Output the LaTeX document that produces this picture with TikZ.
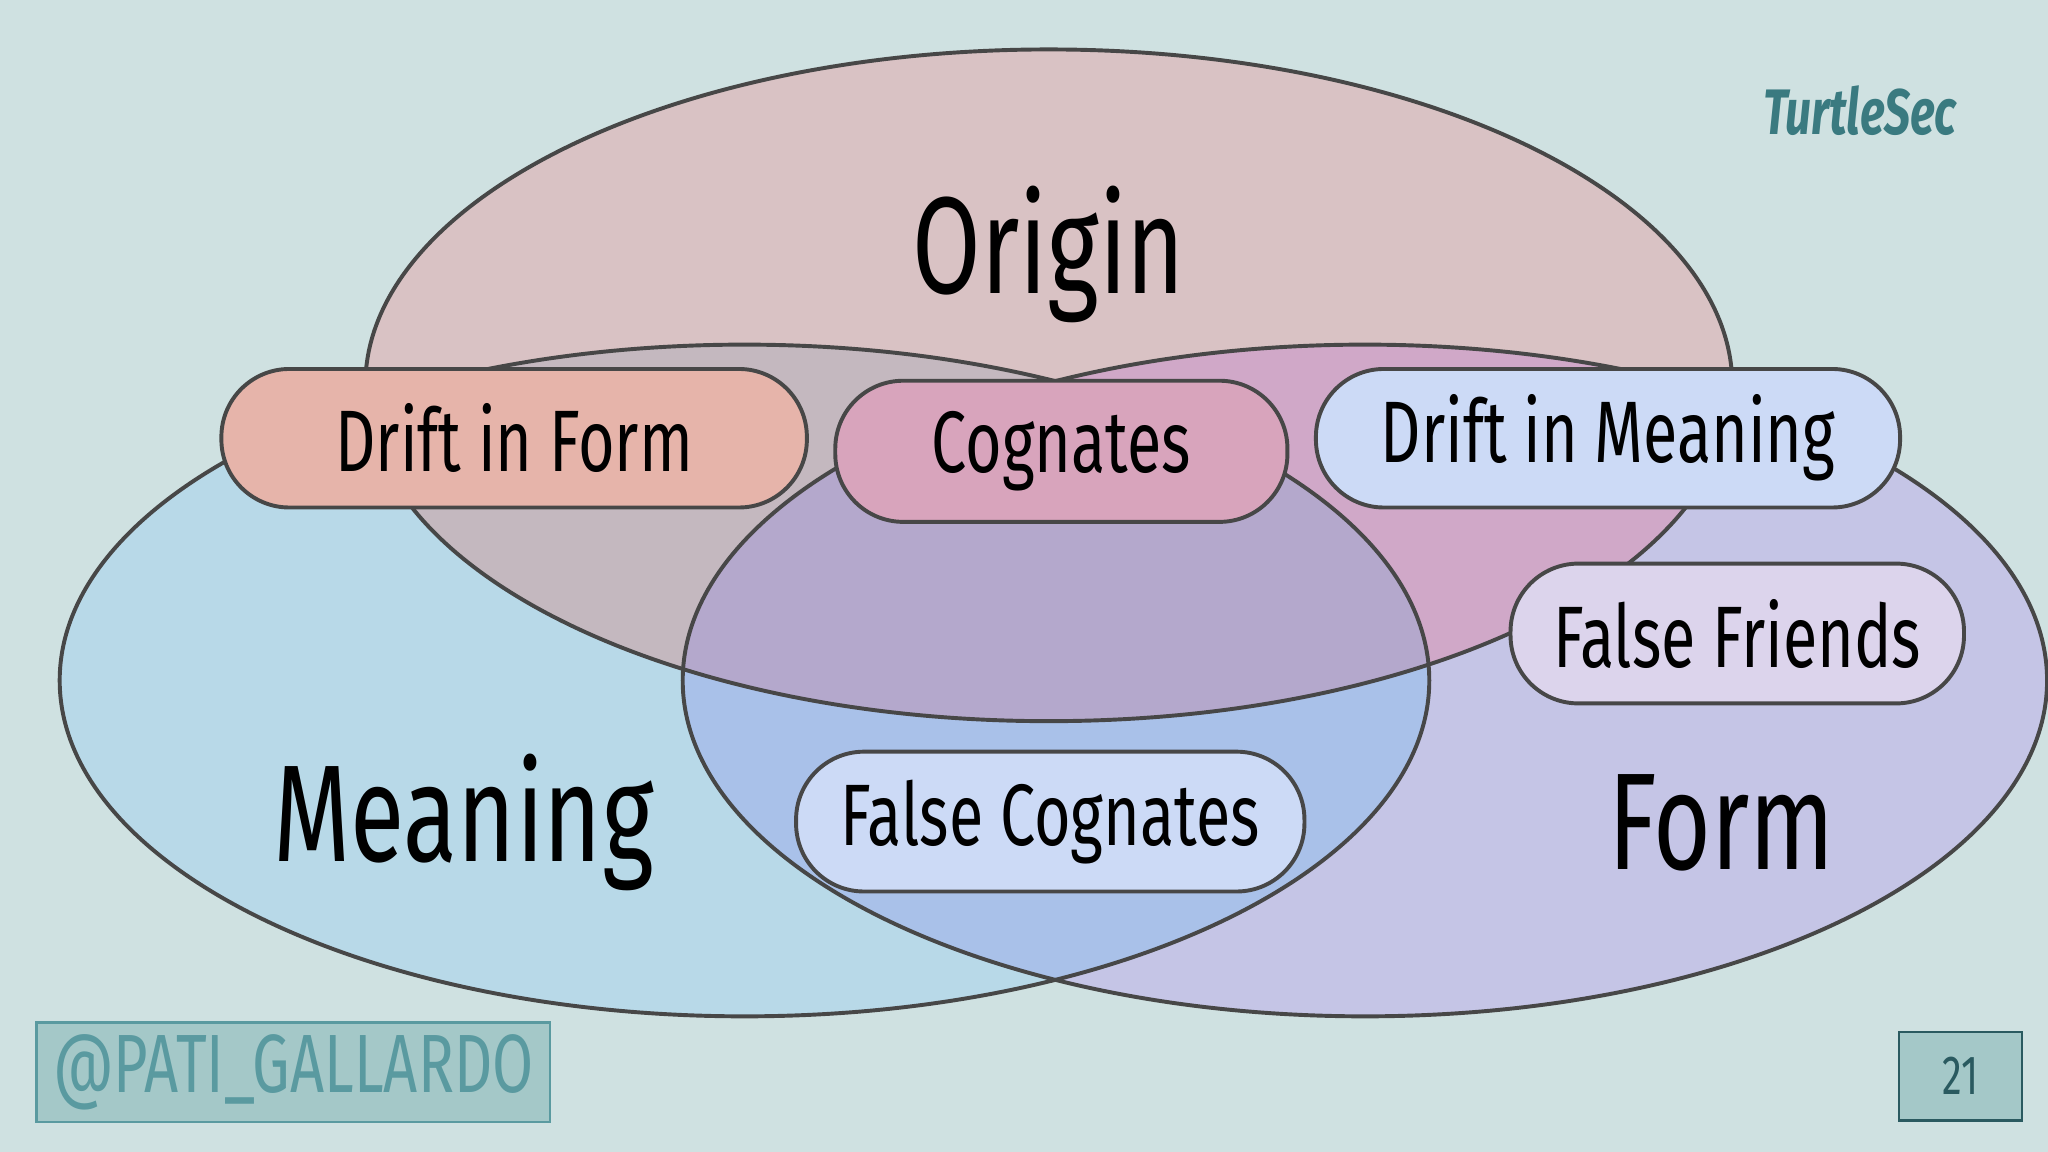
\documentclass[tikz,border=0pt]{standalone}
\usepackage{fontspec}
\setmainfont{Fira Sans}[FakeStretch=0.72]
\begin{document}
\begin{tikzpicture}[x=0.01cm,y=-0.01cm,
  outl/.style={draw=black!72,line width=0.03cm},
  pill/.style={draw=black!72,line width=0.03cm,rounded corners=0.52cm,font=\fontsize{19}{22}\selectfont,inner sep=0pt,anchor=north west},
  big/.style={font=\fontsize{30}{34}\selectfont}]
\definecolor{bg}{HTML}{CFE1E1}
\definecolor{cO}{HTML}{D9C2C4}
\definecolor{cM}{HTML}{B8D9E8}
\definecolor{cF}{HTML}{C5C5E6}
\definecolor{cOM}{HTML}{C4B8BF}
\definecolor{cOF}{HTML}{D0A8C8}
\definecolor{cMF}{HTML}{A9C1E9}
\definecolor{cOMF}{HTML}{B4A8CC}
\definecolor{teal}{HTML}{3A7A80}
\definecolor{pDF}{HTML}{E6B4AA}
\definecolor{pCG}{HTML}{D8A4BC}
\definecolor{pDM}{HTML}{CCDAF6}
\definecolor{pFF}{HTML}{DCD4EC}
\definecolor{twf}{HTML}{A4C8C8}
\definecolor{twd}{HTML}{5A9AA0}
\definecolor{pgd}{HTML}{2A5A60}
\fill[bg] (0,0) rectangle (1568,882);
\useasboundingbox (0,0) rectangle (1568,882);
\def\eO{(803,295) ellipse [x radius=5.23cm, y radius=2.57cm]}
\def\eM{(570,521) ellipse [x radius=5.24cm, y radius=2.57cm]}
\def\eF{(1045,521) ellipse [x radius=5.22cm, y radius=2.57cm]}
\fill[cM] \eM; \fill[cF] \eF; \fill[cO] \eO;
\begin{scope}\clip \eO; \fill[cOM] \eM; \fill[cOF] \eF; \end{scope}
\begin{scope}\clip \eM; \fill[cMF] \eF; \end{scope}
\begin{scope}\clip \eM; \clip \eF; \fill[cOMF] \eO; \end{scope}
\draw[outl] \eM; \draw[outl] \eF; \draw[outl] \eO;
\node[big] (origin) at (803,195) {Origin};
\node[big] (meaning) at (355,630) {Meaning};
\node[big] (form) at (1318,630) {Form};
\node[pill,fill=pDF,minimum width=4.48cm,minimum height=1.06cm] (dif) at (168,281) {};
\node at (dif.center) [font=\fontsize{19}{22}\selectfont] {Drift in Form};
\node[pill,fill=pCG,minimum width=3.46cm,minimum height=1.08cm] (cog) at (638,290) {};
\node at (cog.center) [font=\fontsize{19}{22}\selectfont] {Cognates};
\node[pill,fill=pDM,minimum width=4.47cm,minimum height=1.06cm] (dim) at (1006,281) {};
\node at (dim.center) [font=\fontsize{19}{22}\selectfont] {Drift in Meaning};
\node[pill,fill=pFF,minimum width=3.47cm,minimum height=1.07cm] (ff) at (1155,430) {};
\node at (ff.center) [font=\fontsize{19}{22}\selectfont] {False Friends};
\node[pill,fill=pDM,minimum width=3.89cm,minimum height=1.07cm] (fc) at (608,574) {};
\node at (fc.center) [font=\fontsize{19}{22}\selectfont] {False Cognates};
\node[text=teal,font=\fontsize{14}{16}\selectfont\bfseries\itshape] (logo) at (1424,85) {TurtleSec};
\node[draw=twd,line width=0.02cm,fill=twf,minimum width=3.93cm,minimum height=0.76cm,anchor=north west,inner sep=0pt] (tw) at (27,782) {};
\node[text=twd,font=\fontsize{18}{20}\selectfont] at (tw.center) {@PATI\_GALLARDO};
\node[draw=pgd,line width=0.02cm,fill=twf,minimum width=0.94cm,minimum height=0.68cm,anchor=north west,inner sep=0pt] (pg) at (1453,789) {};
\node[text=pgd,font=\fontsize{12}{14}\selectfont] at (pg.center) {21};
\end{tikzpicture}
\end{document}
